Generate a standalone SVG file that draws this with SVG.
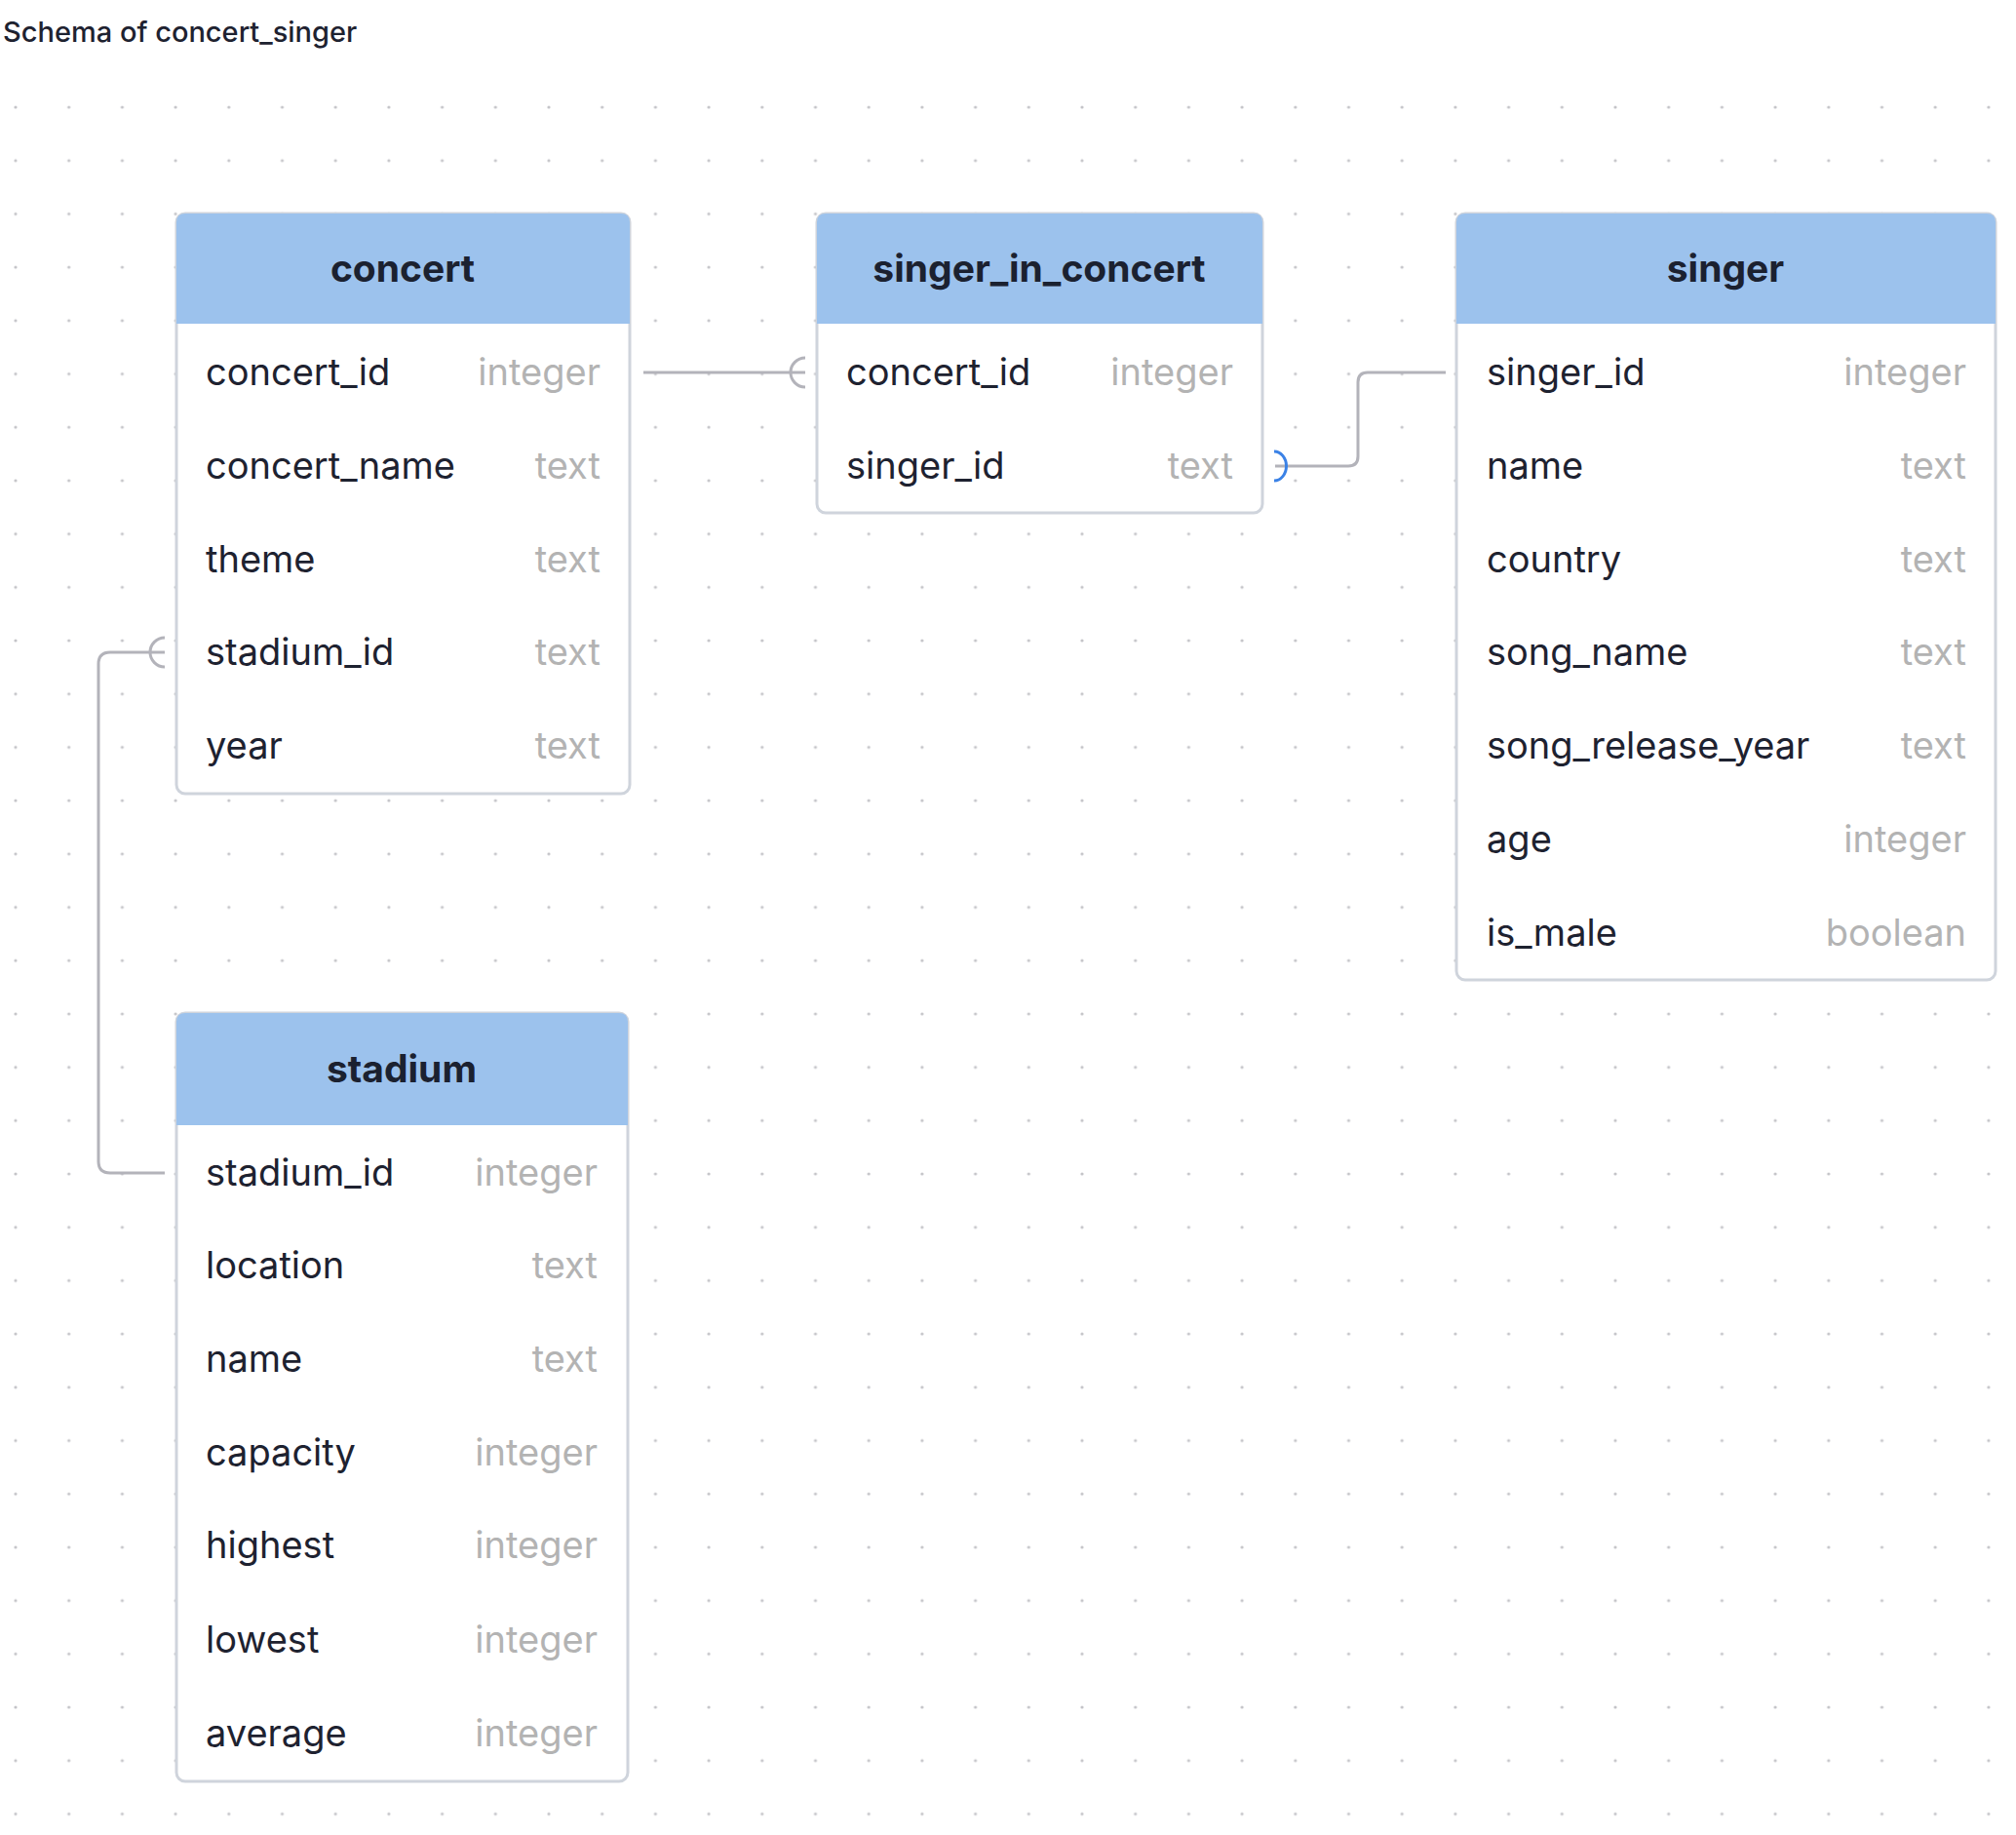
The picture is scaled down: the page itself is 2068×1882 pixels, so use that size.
<svg xmlns="http://www.w3.org/2000/svg" width="2068" height="1882" viewBox="0 0 2068 1882">
<defs>
<pattern id="dots" x="16" y="110" width="54.7" height="54.7" patternUnits="userSpaceOnUse"><circle cx="0" cy="0" r="1.6" fill="#c4c4c8"/><circle cx="54.7" cy="0" r="1.6" fill="#c4c4c8"/><circle cx="0" cy="54.7" r="1.6" fill="#c4c4c8"/><circle cx="54.7" cy="54.7" r="1.6" fill="#c4c4c8"/></pattern>
</defs>
<style>
.box{fill:#fff;stroke:#cfd4dc;stroke-width:3}
.hdr{fill:#9cc2ed}
.ht{font-family:Inter,"Liberation Sans",sans-serif;font-size:39px;font-weight:700;fill:#1b2130;text-anchor:middle}
.cn{font-family:Inter,"Liberation Sans",sans-serif;font-size:38px;fill:#1e2230}
.ct{font-family:Inter,"Liberation Sans",sans-serif;font-size:38px;fill:#b3b3b3;text-anchor:end}
.ln{fill:none;stroke:#b3b3ba;stroke-width:3}
</style>
<rect width="2068" height="1882" fill="#fff"/>
<rect x="0" y="90" width="2068" height="1792" fill="url(#dots)"/>
<text x="3" y="43" font-family="Inter,'Liberation Sans',sans-serif" font-size="29" font-weight="500" fill="#1e2230">Schema of concert_singer</text>
<g id="connectors">
<path class="ln" d="M660,382 H826 M811,382 H826"/>
<path class="ln" d="M826,367 A15,15 0 0 0 826,397"/>
<path class="ln" d="M169,669 H113 Q101,669 101,681 V1191 Q101,1203 113,1203 H169"/>
<path class="ln" d="M169,654 A15,15 0 0 0 169,684"/>
<path class="ln" d="M1308,478 H1383 Q1393,478 1393,468 V392 Q1393,382 1403,382 H1483"/>
<path d="M1307,463 A12.5,15 0 0 1 1307,493" fill="none" stroke="#3b82e6" stroke-width="3"/>
</g>
<g id="concert">
<rect class="box" x="181" y="219" width="465" height="595" rx="9"/>
<path class="hdr" d="M181,332 V228 Q181,219 190,219 H637 Q646,219 646,228 V332 Z"/>
<text class="ht" x="413" y="289">concert</text>
<text class="cn" x="211" y="395">concert_id</text><text class="ct" x="616" y="395">integer</text>
<text class="cn" x="211" y="491">concert_name</text><text class="ct" x="616" y="491">text</text>
<text class="cn" x="211" y="587">theme</text><text class="ct" x="616" y="587">text</text>
<text class="cn" x="211" y="682">stadium_id</text><text class="ct" x="616" y="682">text</text>
<text class="cn" x="211" y="778">year</text><text class="ct" x="616" y="778">text</text>
</g>
<g id="singer_in_concert">
<rect class="box" x="838" y="219" width="457" height="307" rx="9"/>
<path class="hdr" d="M838,332 V228 Q838,219 847,219 H1286 Q1295,219 1295,228 V332 Z"/>
<text class="ht" x="1066" y="289">singer_in_concert</text>
<text class="cn" x="868" y="395">concert_id</text><text class="ct" x="1265" y="395">integer</text>
<text class="cn" x="868" y="491">singer_id</text><text class="ct" x="1265" y="491">text</text>
</g>
<g id="singer">
<rect class="box" x="1494" y="219" width="553" height="786" rx="9"/>
<path class="hdr" d="M1494,332 V228 Q1494,219 1503,219 H2038 Q2047,219 2047,228 V332 Z"/>
<text class="ht" x="1770" y="289">singer</text>
<text class="cn" x="1525" y="395">singer_id</text><text class="ct" x="2017" y="395">integer</text>
<text class="cn" x="1525" y="491">name</text><text class="ct" x="2017" y="491">text</text>
<text class="cn" x="1525" y="587">country</text><text class="ct" x="2017" y="587">text</text>
<text class="cn" x="1525" y="682">song_name</text><text class="ct" x="2017" y="682">text</text>
<text class="cn" x="1525" y="778">song_release_year</text><text class="ct" x="2017" y="778">text</text>
<text class="cn" x="1525" y="874">age</text><text class="ct" x="2017" y="874">integer</text>
<text class="cn" x="1525" y="970">is_male</text><text class="ct" x="2017" y="970">boolean</text>
</g>
<g id="stadium">
<rect class="box" x="181" y="1039" width="463" height="788" rx="9"/>
<path class="hdr" d="M181,1154 V1048 Q181,1039 190,1039 H635 Q644,1039 644,1048 V1154 Z"/>
<text class="ht" x="412" y="1110">stadium</text>
<text class="cn" x="211" y="1216">stadium_id</text><text class="ct" x="613" y="1216">integer</text>
<text class="cn" x="211" y="1311">location</text><text class="ct" x="613" y="1311">text</text>
<text class="cn" x="211" y="1407">name</text><text class="ct" x="613" y="1407">text</text>
<text class="cn" x="211" y="1503">capacity</text><text class="ct" x="613" y="1503">integer</text>
<text class="cn" x="211" y="1598">highest</text><text class="ct" x="613" y="1598">integer</text>
<text class="cn" x="211" y="1695">lowest</text><text class="ct" x="613" y="1695">integer</text>
<text class="cn" x="211" y="1791">average</text><text class="ct" x="613" y="1791">integer</text>
</g>
</svg>
